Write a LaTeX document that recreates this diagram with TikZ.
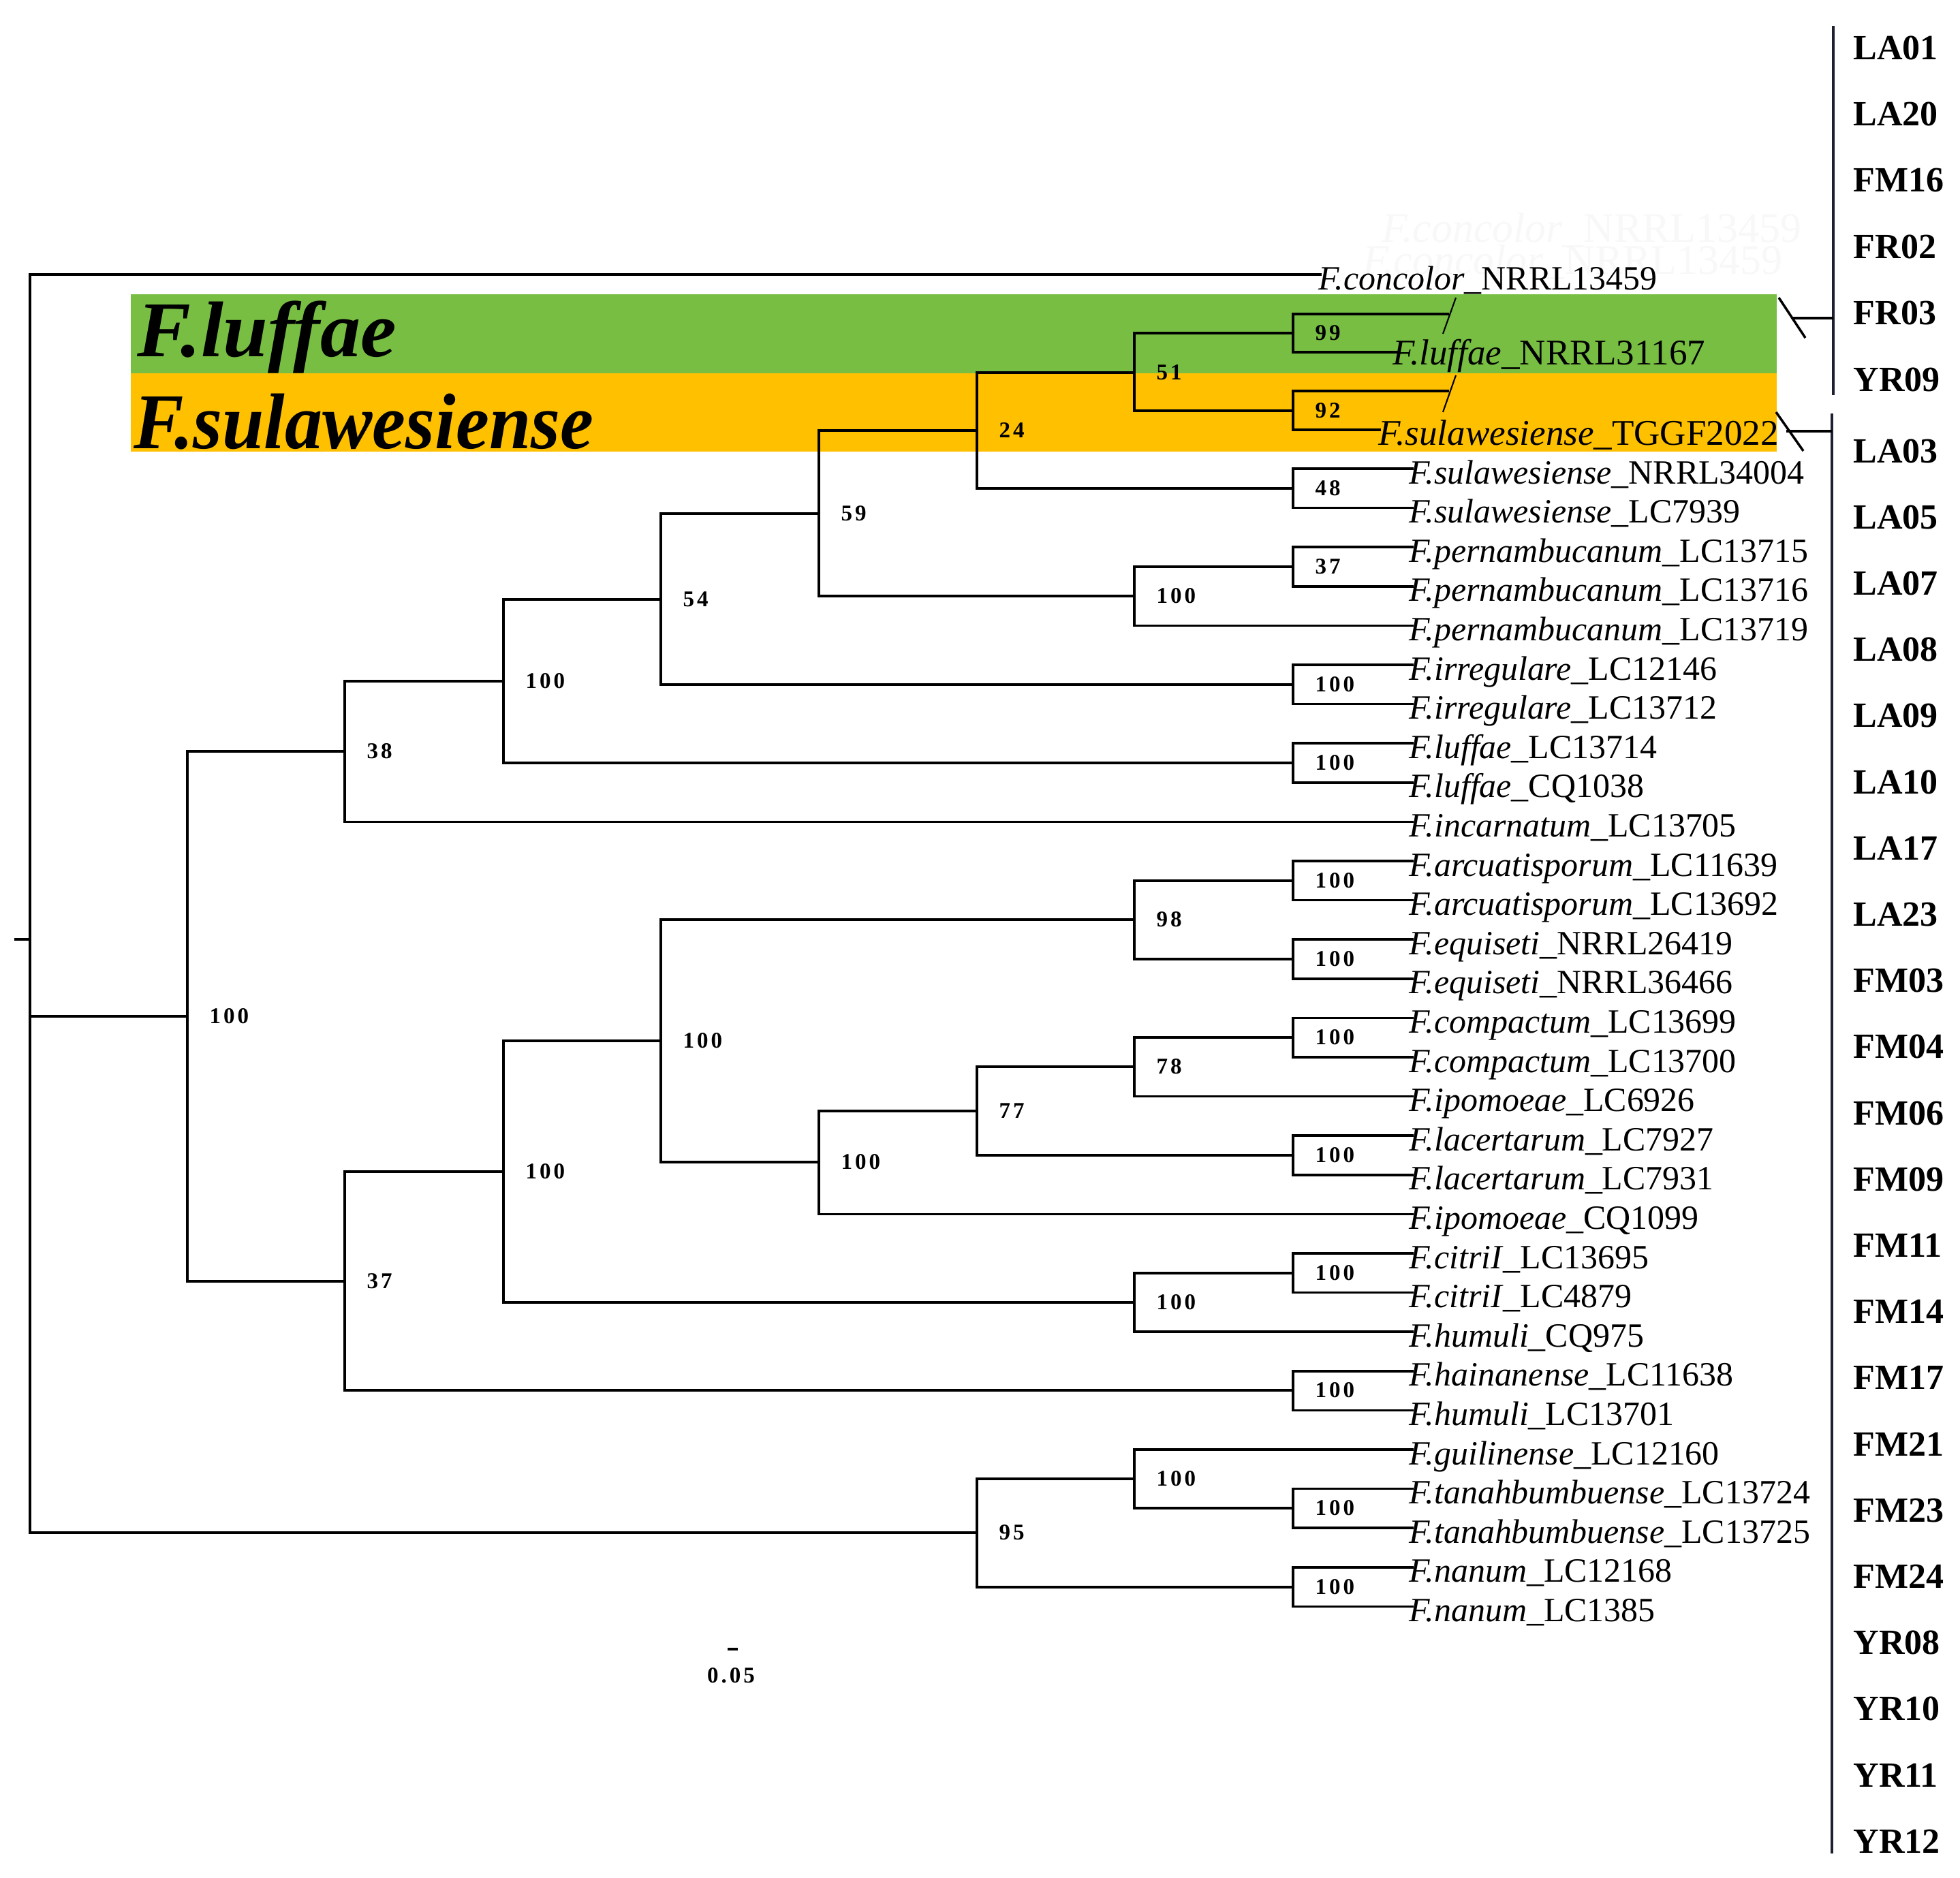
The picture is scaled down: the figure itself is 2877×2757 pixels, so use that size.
\documentclass[tikz,border=0pt]{standalone}
\usepackage{fontspec}
\usepackage{graphicx}
\setmainfont{Liberation Serif}
\newfontfamily\bsfont{Liberation Serif}[LetterSpace=12]
\definecolor{bandgreen}{RGB}{119,190,67}
\definecolor{bandorange}{RGB}{255,192,0}
\definecolor{navyline}{RGB}{28,32,48}
\definecolor{ghostgray}{RGB}{248,248,248}
\tikzset{
  br/.style={line width=1.0pt, black},
  rl/.style={line width=0.9pt, navyline},
  slash/.style={line width=0.6pt, black},
  leaf/.style={anchor=base west, inner sep=0pt, font=\fontsize{14.2}{16}\selectfont},
  leafbig/.style={anchor=base west, inner sep=0pt, font=\fontsize{15.1}{17}\selectfont},
  boot/.style={anchor=west, inner sep=0pt, xshift=3.2mm, font=\bsfont\bfseries\fontsize{9.4}{11}\selectfont},
  site/.style={anchor=west, inner sep=0pt, font=\bfseries\fontsize{14.8}{17}\selectfont},
  biglab/.style={anchor=base west, inner sep=0pt, font=\bfseries\itshape\fontsize{33}{36}\selectfont},
  ghost/.style={anchor=east, inner sep=0pt, text=ghostgray, font=\fontsize{17.6}{20}\selectfont}
}
\begin{document}
\begin{tikzpicture}[x=0.1mm,y=-0.1mm]
\useasboundingbox (0,0) rectangle (2877,2757);
\fill[white] (0,0) rectangle (2877,2757);
% highlight bands
\fill[bandgreen] (192,432) rectangle (2608,548);
\fill[bandorange] (192,548) rectangle (2608,663);
\node[biglab] (bigluffae) at (201,523) {\scalebox{1.02}[1]{F.luffae}};
\node[biglab] (bigsula) at (196,658) {\scalebox{0.95}[1]{F.sulawesiense}};
% faint ghost labels
\node[ghost] (gh1) at (2645,338) {\textit{F.concolor}\_NRRL13459};
\node[ghost] (gh2) at (2617,385) {\textit{F.concolor}\_NRRL13459};
% internal nodes
\coordinate (r) at (44,1379);
\coordinate (rt) at (21,1379);
\coordinate (n1) at (275,1492);
\coordinate (n38) at (506,1103);
\coordinate (n37b) at (506,1881);
\coordinate (n100a) at (739,1000);
\coordinate (n54) at (970,880);
\coordinate (n59) at (1202,754);
\coordinate (n24) at (1434,632);
\coordinate (n51) at (1665,547);
\coordinate (n99) at (1898,489);
\coordinate (n92) at (1898,603);
\coordinate (n48) at (1898,717);
\coordinate (npern) at (1665,875);
\coordinate (n37) at (1898,832);
\coordinate (nirr) at (1898,1005);
\coordinate (nluf) at (1898,1120);
\coordinate (n100b) at (739,1720);
\coordinate (n100c) at (970,1528);
\coordinate (n98) at (1665,1350);
\coordinate (narc) at (1898,1293);
\coordinate (nequ) at (1898,1408);
\coordinate (n100d) at (1202,1706);
\coordinate (n77) at (1434,1631);
\coordinate (n78) at (1665,1566);
\coordinate (ncomp) at (1898,1523);
\coordinate (nlac) at (1898,1696);
\coordinate (n100e) at (1665,1912);
\coordinate (ncit) at (1898,1869);
\coordinate (nhai) at (1898,2041);
\coordinate (n95) at (1434,2250);
\coordinate (n100f) at (1665,2171);
\coordinate (ntan) at (1898,2214);
\coordinate (nnan) at (1898,2330);
% leaves 1-3
\coordinate (t1) at (1940,403);
\coordinate (t2a) at (2127,461);
\coordinate (t2) at (2053,517);
\coordinate (t3a) at (2127,574);
\coordinate (t3) at (2027,631);
\node[leaf] (l1) at (1935,425) {\textit{F.concolor}\_NRRL13459};
\node[leafbig] (l2) at (2044,535) {\textit{F.luffae}\_NRRL31167};
\node[leafbig] (l3) at (2023,653) {\textit{F.sulawesiense}\_TGGF2022};
% leaves 4-33
\foreach \nm [count=\i from 4] in {
 {\textit{F.sulawesiense}\_NRRL34004},
 {\textit{F.sulawesiense}\_LC7939},
 {\textit{F.pernambucanum}\_LC13715},
 {\textit{F.pernambucanum}\_LC13716},
 {\textit{F.pernambucanum}\_LC13719},
 {\textit{F.irregulare}\_LC12146},
 {\textit{F.irregulare}\_LC13712},
 {\textit{F.luffae}\_LC13714},
 {\textit{F.luffae}\_CQ1038},
 {\textit{F.incarnatum}\_LC13705},
 {\textit{F.arcuatisporum}\_LC11639},
 {\textit{F.arcuatisporum}\_LC13692},
 {\textit{F.equiseti}\_NRRL26419},
 {\textit{F.equiseti}\_NRRL36466},
 {\textit{F.compactum}\_LC13699},
 {\textit{F.compactum}\_LC13700},
 {\textit{F.ipomoeae}\_LC6926},
 {\textit{F.lacertarum}\_LC7927},
 {\textit{F.lacertarum}\_LC7931},
 {\textit{F.ipomoeae}\_CQ1099},
 {\textit{F.citriI}\_LC13695},
 {\textit{F.citriI}\_LC4879},
 {\textit{F.humuli}\_CQ975},
 {\textit{F.hainanense}\_LC11638},
 {\textit{F.humuli}\_LC13701},
 {\textit{F.guilinense}\_LC12160},
 {\textit{F.tanahbumbuense}\_LC13724},
 {\textit{F.tanahbumbuense}\_LC13725},
 {\textit{F.nanum}\_LC12168},
 {\textit{F.nanum}\_LC1385}} {
  \pgfmathsetmacro\yy{688+(\i-4)*57.6}
  \coordinate (t\i) at (2075,\yy);
  \node[leaf] (l\i) at (2068,\yy+22) {\nm};
}
% branches
\draw[br] (rt) -- (r);
\draw[br] (r) |- (t1);
\draw[br] (r) |- (n1);
\draw[br] (r) |- (n95);
\draw[br] (n1) |- (n38);
\draw[br] (n1) |- (n37b);
\draw[br] (n38) |- (n100a);
\draw[br] (n38) |- (t13);
\draw[br] (n100a) |- (n54);
\draw[br] (n100a) |- (nluf);
\draw[br] (n54) |- (n59);
\draw[br] (n54) |- (nirr);
\draw[br] (n59) |- (n24);
\draw[br] (n59) |- (npern);
\draw[br] (n24) |- (n51);
\draw[br] (n24) |- (n48);
\draw[br] (n51) |- (n99);
\draw[br] (n51) |- (n92);
\draw[br] (n99) |- (t2a);
\draw[br] (n99) |- (t2);
\draw[br] (n92) |- (t3a);
\draw[br] (n92) |- (t3);
\draw[br] (n48) |- (t4);
\draw[br] (n48) |- (t5);
\draw[br] (npern) |- (n37);
\draw[br] (npern) |- (t8);
\draw[br] (n37) |- (t6);
\draw[br] (n37) |- (t7);
\draw[br] (nirr) |- (t9);
\draw[br] (nirr) |- (t10);
\draw[br] (nluf) |- (t11);
\draw[br] (nluf) |- (t12);
\draw[br] (n37b) |- (n100b);
\draw[br] (n37b) |- (nhai);
\draw[br] (n100b) |- (n100c);
\draw[br] (n100b) |- (n100e);
\draw[br] (n100c) |- (n98);
\draw[br] (n100c) |- (n100d);
\draw[br] (n98) |- (narc);
\draw[br] (n98) |- (nequ);
\draw[br] (narc) |- (t14);
\draw[br] (narc) |- (t15);
\draw[br] (nequ) |- (t16);
\draw[br] (nequ) |- (t17);
\draw[br] (n100d) |- (n77);
\draw[br] (n100d) |- (t23);
\draw[br] (n77) |- (n78);
\draw[br] (n77) |- (nlac);
\draw[br] (n78) |- (ncomp);
\draw[br] (n78) |- (t20);
\draw[br] (ncomp) |- (t18);
\draw[br] (ncomp) |- (t19);
\draw[br] (nlac) |- (t21);
\draw[br] (nlac) |- (t22);
\draw[br] (n100e) |- (ncit);
\draw[br] (n100e) |- (t26);
\draw[br] (ncit) |- (t24);
\draw[br] (ncit) |- (t25);
\draw[br] (nhai) |- (t27);
\draw[br] (nhai) |- (t28);
\draw[br] (n95) |- (n100f);
\draw[br] (n95) |- (nnan);
\draw[br] (n100f) |- (t29);
\draw[br] (n100f) |- (ntan);
\draw[br] (ntan) |- (t30);
\draw[br] (ntan) |- (t31);
\draw[br] (nnan) |- (t32);
\draw[br] (nnan) |- (t33);
% slashes on the edited branches
\coordinate (s1a) at (2137,437); \coordinate (s1b) at (2118,490);
\coordinate (s2a) at (2137,551); \coordinate (s2b) at (2118,605);
\draw[slash] (s1a) -- (s1b);
\draw[slash] (s2a) -- (s2b);
% bootstrap values
\foreach \n/\v in {n1/100, n38/38, n37b/37, n100a/100, n54/54, n59/59, n24/24,
  n51/51, n99/99, n92/92, n48/48, npern/100, n37/37, nirr/100, nluf/100,
  n100b/100, n100c/100, n98/98, narc/100, nequ/100, n100d/100, n77/77, n78/78,
  ncomp/100, nlac/100, n100e/100, ncit/100, nhai/100, n95/95, n100f/100,
  ntan/100, nnan/100} {
  \node[boot] (b\n) at (\n) {\v};
}
% scale bar
\coordinate (sb1) at (1068,2421); \coordinate (sb2) at (1083,2421);
\draw[line width=0.9pt] (sb1) -- (sb2);
\node[inner sep=0pt, font=\bsfont\bfseries\fontsize{9.4}{11}\selectfont] (sblab) at (1073,2460) {0.05};
% right-hand site list
\coordinate (v1t) at (2691,38); \coordinate (v1b) at (2691,580);
\coordinate (h1a) at (2630,467); \coordinate (h1b) at (2691,467);
\coordinate (q1a) at (2611,437); \coordinate (q1b) at (2650,496);
\coordinate (v2t) at (2689,607); \coordinate (v2b) at (2689,2721);
\coordinate (h2a) at (2622,633); \coordinate (h2b) at (2689,633);
\coordinate (q2a) at (2607,605); \coordinate (q2b) at (2647,662);
\draw[rl] (v1t) -- (v1b);
\draw[rl] (v2t) -- (v2b);
\draw[br] (h1a) -- (h1b);
\draw[br] (h2a) -- (h2b);
\draw[br] (q1a) -- (q1b);
\draw[br] (q2a) -- (q2b);
\foreach \s [count=\k from 0] in {LA01,LA20,FM16,FR02,FR03,YR09} {
  \node[site] (sa\k) at (2720,70+\k*97.4) {\s};
}
\foreach \s [count=\k from 0] in {LA03,LA05,LA07,LA08,LA09,LA10,LA17,LA23,FM03,FM04,FM06,FM09,FM11,FM14,FM17,FM21,FM23,FM24,YR08,YR10,YR11,YR12} {
  \node[site] (sb\k) at (2720,662+\k*97.2) {\s};
}
\end{tikzpicture}
\end{document}
